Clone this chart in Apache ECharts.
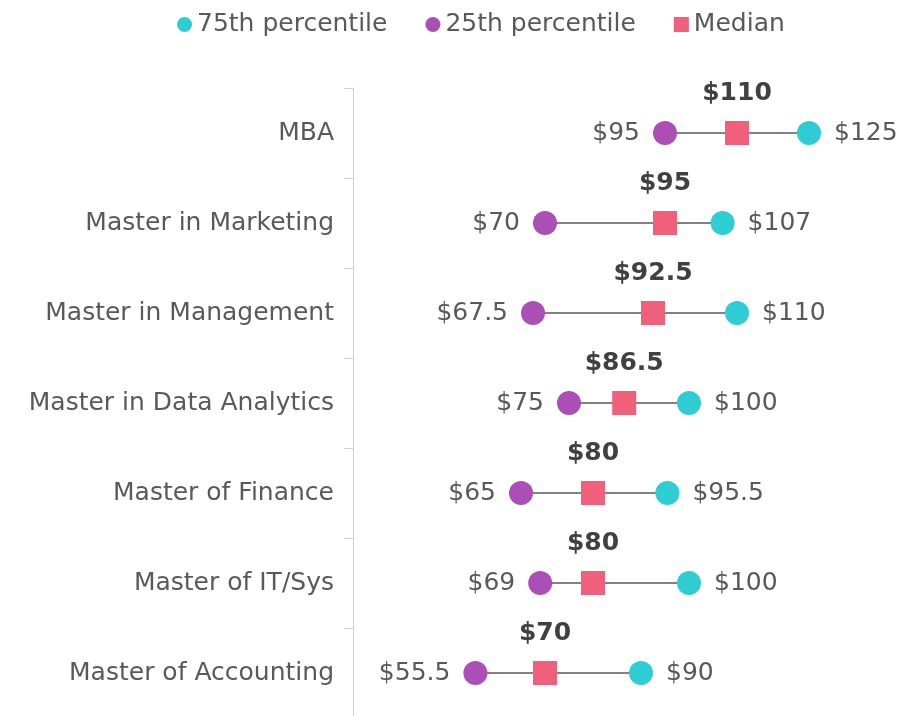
<!DOCTYPE html>
<html>
<head>
<meta charset="utf-8">
<style>
  html, body { margin: 0; padding: 0; background: #fff; }
  #chart { width: 906px; height: 716px; }
</style>
<script src="https://cdn.jsdelivr.net/npm/echarts@6/dist/echarts.min.js"></script>
</head>
<body>
<div id="chart"></div>
<script>
const categories = ['MBA', 'Master in Marketing', 'Master in Management', 'Master in Data Analytics', 'Master of Finance', 'Master of IT/Sys', 'Master of Accounting']
const p25 = [95, 70, 67.5, 75, 65, 69, 55.5]
const median = [110, 95, 92.5, 86.5, 80, 80, 70]
const p75 = [125, 107, 110, 100, 95.5, 100, 90]

const colors = { p75: '#2ECDD3', p25: '#AB4FB6', median: '#F0607A' }
const font = 'DejaVu Sans'
const money = p => '$' + p.value[0]

const chart = echarts.init(document.getElementById('chart'))

chart.setOption({
  animation: false,
  textStyle: { fontFamily: font },
  legend: {
    top: 7,
    left: 172,
    itemGap: 38,
    itemWidth: 15,
    itemHeight: 15,
    textStyle: { fontSize: 25, color: '#595959', fontFamily: font },
    data: [
      { name: '75th percentile', icon: 'circle' },
      { name: '25th percentile', icon: 'circle' },
      { name: 'Median', icon: 'rect' }
    ]
  },
  grid: { left: 353, right: 25, top: 88, bottom: -2, outerBoundsMode: 'none' },
  xAxis: {
    type: 'value',
    min: 30,
    max: 140,
    show: false
  },
  yAxis: {
    type: 'category',
    inverse: true,
    data: categories,
    axisLine: { show: true, lineStyle: { color: '#D0D0D0' } },
    axisTick: { show: true, length: 9, lineStyle: { color: '#D0D0D0' } },
    axisLabel: { margin: 19, fontSize: 25, color: '#595959', fontFamily: font }
  },
  series: [
    {
      // connector between 25th and 75th percentile
      type: 'custom',
      z: 1,
      silent: true,
      data: categories.map((c, i) => [p25[i], p75[i], i]),
      renderItem(params, api) {
        const a = api.coord([api.value(0), api.value(2)])
        const b = api.coord([api.value(1), api.value(2)])
        return {
          type: 'line',
          shape: { x1: a[0], y1: a[1], x2: b[0], y2: b[1] },
          style: { stroke: '#595959', lineWidth: 1.5 }
        }
      }
    },
    {
      name: '75th percentile',
      type: 'scatter',
      z: 3,
      symbol: 'circle',
      symbolSize: 24,
      itemStyle: { color: colors.p75, opacity: 1 },
      label: { show: true, position: 'right', distance: 13, formatter: money, fontSize: 25, color: '#595959', fontFamily: font },
      data: p75.map((v, i) => [v, i])
    },
    {
      name: '25th percentile',
      type: 'scatter',
      z: 3,
      symbol: 'circle',
      symbolSize: 24,
      itemStyle: { color: colors.p25, opacity: 1 },
      label: { show: true, position: 'left', distance: 13, formatter: money, fontSize: 25, color: '#595959', fontFamily: font },
      data: p25.map((v, i) => [v, i])
    },
    {
      name: 'Median',
      type: 'scatter',
      z: 3,
      symbol: 'rect',
      symbolSize: 24,
      itemStyle: { color: colors.median, opacity: 1 },
      label: { show: true, position: 'top', distance: 15, formatter: money, fontSize: 25, fontWeight: 'bold', color: '#404040', fontFamily: font },
      data: median.map((v, i) => [v, i])
    }
  ]
})
</script>
</body>
</html>
